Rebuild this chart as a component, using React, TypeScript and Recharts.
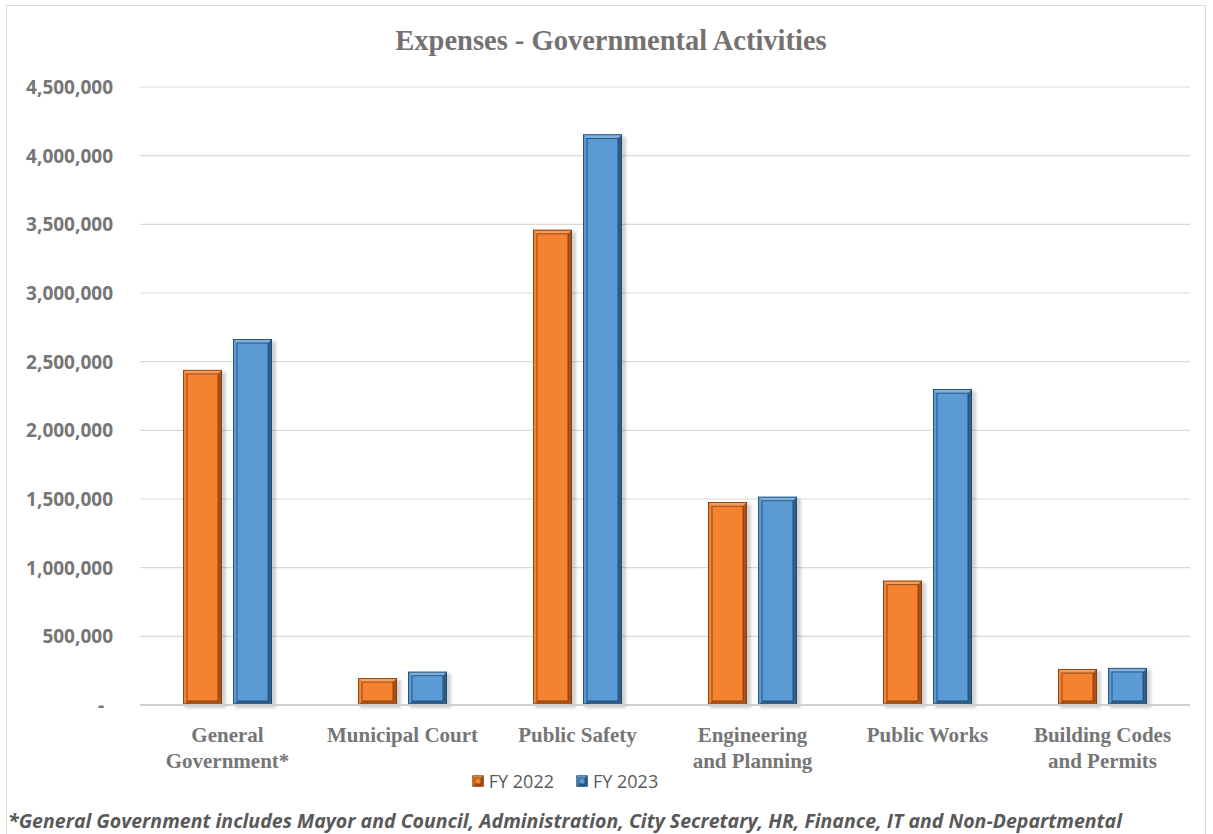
import React from "react";
import { BarChart, Bar, XAxis, YAxis, CartesianGrid, Legend } from "recharts";

const categories = [
  "General\nGovernment*",
  "Municipal Court",
  "Public Safety",
  "Engineering\nand Planning",
  "Public Works",
  "Building Codes\nand Permits",
];
const fy2022 = [2440000, 196000, 3460000, 1477000, 905000, 262000];
const fy2023 = [2665000, 242000, 4155000, 1516000, 2300000, 270000];
const yTicks = [0, 500000, 1000000, 1500000, 2000000, 2500000, 3000000, 3500000, 4000000, 4500000];
const seriesNames = ["FY 2022", "FY 2023"];

const data = categories.map((c, i) => ({ name: c, fy2022: fy2022[i], fy2023: fy2023[i] }));

const PALETTE: Record<string, { base: string; light: string; dark: string; edge: string }> = {
  orange: { base: "#F5822F", light: "#F89B57", dark: "#A8521A", edge: "#7A3A10" },
  blue: { base: "#5B9BD5", light: "#7FB1DF", dark: "#2F5F8C", edge: "#1F4468" },
};

const BevelRect = ({ x, y, width, height, pal, shadow = true, b = 4 }: any) => {
  if (!width || !height || height <= 0) return null;
  const w = width;
  const h = height;
  const bb = Math.min(b, w / 3, h / 3);
  return (
    <g>
      {shadow && (
        <rect x={x + 2} y={y + 2} width={w + 2} height={h + 1} fill="rgba(0,0,0,0.18)" filter="url(#barShadow)" />
      )}
      <rect x={x} y={y} width={w} height={h} fill={pal.base} />
      <polygon points={`${x},${y} ${x + w},${y} ${x + w - bb},${y + bb} ${x + bb},${y + bb}`} fill={pal.light} />
      <polygon points={`${x + w},${y} ${x + w},${y + h} ${x + w - bb},${y + h - bb} ${x + w - bb},${y + bb}`} fill={pal.dark} />
      <polygon points={`${x},${y + h} ${x + w},${y + h} ${x + w - bb},${y + h - bb} ${x + bb},${y + h - bb}`} fill={pal.dark} />
      <polygon points={`${x},${y} ${x + bb},${y + bb} ${x + bb},${y + h - bb} ${x},${y + h}`} fill={pal.base} />
      <rect x={x + bb} y={y + bb} width={w - 2 * bb} height={h - 2 * bb} fill="none" stroke={pal.edge} strokeWidth={0.8} />
      <rect x={x + 0.4} y={y + 0.4} width={w - 0.8} height={h - 0.8} fill="none" stroke={pal.edge} strokeWidth={0.8} />
    </g>
  );
};

const YTick = ({ x, y, payload }: any) => {
  const v = payload.value as number;
  const isZero = v === 0;
  return (
    <text
      x={isZero ? x - 28 : x - 19}
      y={y}
      dy={7}
      textAnchor="end"
      fill="#767676"
      fontFamily="'Open Sans', sans-serif"
      fontWeight={700}
      fontSize={19}
    >
      {isZero ? "-" : v.toLocaleString("en-US")}
    </text>
  );
};

const XTick = ({ x, y, payload }: any) => {
  const lines = String(payload.value).split("\n");
  return (
    <g>
      {lines.map((l, i) => (
        <text
          key={i}
          x={x}
          y={y + 22 + i * 26}
          dy={7}
          textAnchor="middle"
          fill="#767676"
          fontFamily="'Liberation Serif', 'Times New Roman', serif"
          fontWeight={700}
          fontSize={21}
        >
          {l}
        </text>
      ))}
    </g>
  );
};

const LegendContent = () => {
  const pals = [PALETTE.orange, PALETTE.blue];
  return (
    <div style={{ display: "flex", justifyContent: "center", alignItems: "center" }}>
      <div style={{ display: "flex", alignItems: "center", marginLeft: -83 }}>
        {seriesNames.map((n, i) => (
          <div key={n} style={{ display: "flex", alignItems: "center", marginRight: i === 0 ? 22 : 0 }}>
            <svg width={12} height={12} style={{ marginRight: 5 }}>
              <BevelRect x={0.5} y={0.5} width={11} height={11} pal={pals[i]} shadow={false} b={2.5} />
            </svg>
            <span
              style={{
                fontFamily: "'Open Sans', sans-serif",
                fontSize: 18,
                color: "#595959",
                lineHeight: "20px",
              }}
            >
              {n}
            </span>
          </div>
        ))}
      </div>
    </div>
  );
};

export default function App() {
  return (
    <div style={{ position: "absolute", left: 0, top: 0, width: 1213, height: 834, overflow: "hidden", background: "#fff" }}>
      <div
        style={{
          position: "absolute",
          left: 6,
          top: 5,
          width: 1200,
          height: 860,
          border: "1.5px solid #d9d9d9",
          boxSizing: "border-box",
        }}
      />
      <div
        style={{
          position: "absolute",
          left: 0,
          top: 24,
          width: 1222,
          textAlign: "center",
          fontFamily: "'Liberation Serif', 'Times New Roman', serif",
          fontWeight: 700,
          fontSize: 28.5,
          color: "#767171",
          lineHeight: "34px",
        }}
      >
        Expenses - Governmental Activities
      </div>
      <div style={{ position: "absolute", left: 0, top: 0 }}>
        <BarChart
          width={1213}
          height={834}
          data={data}
          margin={{ top: 87, right: 23, bottom: 0, left: 0 }}
          barSize={39}
          barGap={11}
        >
          <defs>
            <filter id="barShadow" x="-30%" y="-10%" width="160%" height="130%">
              <feGaussianBlur stdDeviation="1.8" />
            </filter>
          </defs>
          <CartesianGrid vertical={false} stroke="#d9d9d9" strokeWidth={1.2} />
          <XAxis
            dataKey="name"
            height={129}
            axisLine={{ stroke: "#cfcfcf", strokeWidth: 2 }}
            tickLine={false}
            interval={0}
            tick={<XTick />}
          />
          <YAxis
            width={140}
            domain={[0, 4500000]}
            ticks={yTicks}
            axisLine={false}
            tickLine={false}
            tick={<YTick />}
            interval={0}
          />
          <Legend
            layout="horizontal"
            verticalAlign="middle"
            align="center"
            wrapperStyle={{ top: 771, left: 0, width: 1213 }}
            content={<LegendContent />}
          />
          <Bar
            dataKey="fy2022"
            name={seriesNames[0]}
            fill={PALETTE.orange.base}
            isAnimationActive={false}
            shape={(p: any) => <BevelRect {...p} pal={PALETTE.orange} />}
          />
          <Bar
            dataKey="fy2023"
            name={seriesNames[1]}
            fill={PALETTE.blue.base}
            isAnimationActive={false}
            shape={(p: any) => <BevelRect {...p} pal={PALETTE.blue} />}
          />
        </BarChart>
      </div>
      <svg style={{ position: "absolute", left: 0, top: 800 }} width={1213} height={34}>
        <text
          x={8}
          y={28}
          textLength={1114}
          lengthAdjust="spacingAndGlyphs"
          fontFamily="'Open Sans', sans-serif"
          fontWeight={700}
          fontStyle="italic"
          fontSize={19.5}
          fill="#595959"
        >
          *General Government includes Mayor and Council, Administration, City Secretary, HR, Finance, IT and Non-Departmental
        </text>
      </svg>
    </div>
  );
}
